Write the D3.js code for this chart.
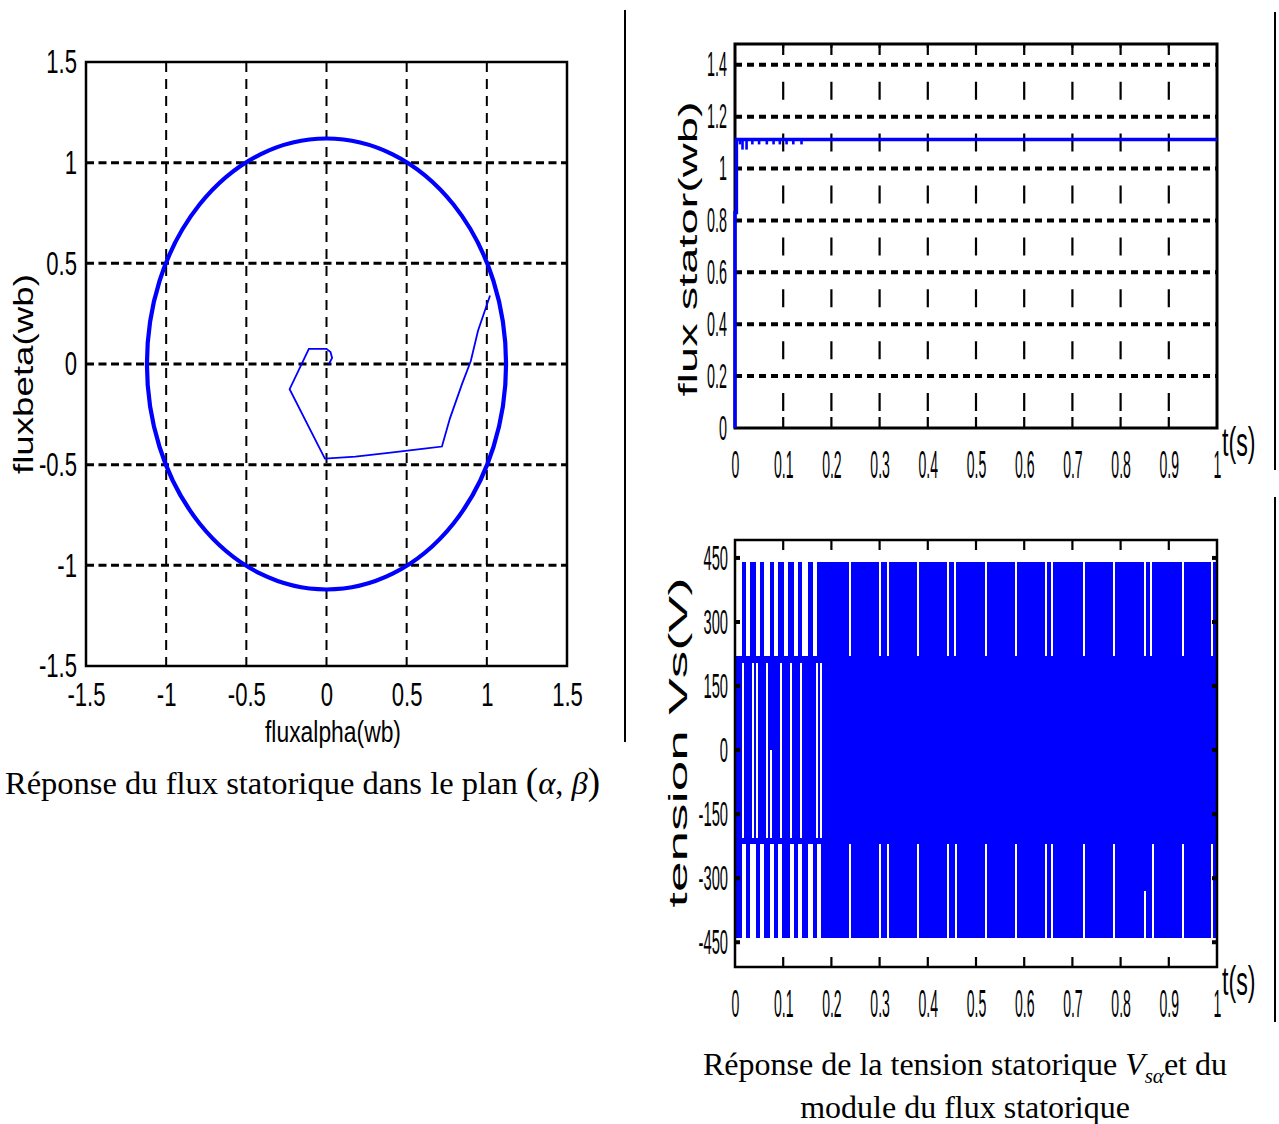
<!DOCTYPE html>
<html>
<head>
<meta charset="utf-8">
<script src="https://cdn.jsdelivr.net/npm/d3@7"></script>
<style>
  body { margin: 0; background: #fff; }
  svg { display: block; }
</style>
</head>
<body>
<script>
// ---------------- data ----------------
// stator flux in the (alpha, beta) plane
const planTicks = [-1.5, -1, -0.5, 0, 0.5, 1, 1.5];
const planTickLabels = ["-1.5", "-1", "-0.5", "0", "0.5", "1", "1.5"];
const fluxRadius = 1.12;               // steady-state flux magnitude (Wb)
const startAlpha = [0.015, 0.035, 0.025, 0.0, -0.11, -0.23, -0.01, 0.18, 0.40, 0.61, 0.72, 0.77, 0.845, 0.90, 0.945, 1.02];
const startBeta  = [0.0, 0.03, 0.06, 0.075, 0.075, -0.125, -0.47, -0.46, -0.44, -0.42, -0.41, -0.27, -0.10, 0.015, 0.165, 0.34];

// stator flux magnitude versus time
const timeTicks = [0, 0.1, 0.2, 0.3, 0.4, 0.5, 0.6, 0.7, 0.8, 0.9, 1];
const timeTickLabels = ["0", "0.1", "0.2", "0.3", "0.4", "0.5", "0.6", "0.7", "0.8", "0.9", "1"];
const fluxTicks = [0, 0.2, 0.4, 0.6, 0.8, 1, 1.2, 1.4];
const fluxTickLabels = ["0", "0.2", "0.4", "0.6", "0.8", "1", "1.2", "1.4"];
const fluxT = [0, 0, 0.003, 0.003, 1];
const fluxV = [0, 0.83, 0.83, 1.112, 1.112];
const rippleT = [0.0104, 0.0156, 0.024, 0.036, 0.050, 0.066, 0.080, 0.093, 0.107, 0.121, 0.138];
const rippleV = [1.093, 1.073, 1.073, 1.093, 1.093, 1.093, 1.093, 1.093, 1.093, 1.093, 1.093];

// stator phase voltage Vs_alpha
const voltTicks = [-450, -300, -150, 0, 150, 300, 450];
const voltTickLabels = ["-450", "-300", "-150", "0", "150", "300", "450"];
const voltLevels = [-440, -220, 220, 440];
// time intervals (s) during which the voltage switches inside each band
const upperBand = [[0, 0.003], [0.0145, 0.023], [0.031, 0.0435], [0.052, 0.060], [0.0726, 0.081],
  [0.089, 0.102], [0.110, 0.122], [0.131, 0.139], [0.151, 0.162], [0.170, 0.237], [0.241, 0.299],
  [0.303, 0.315], [0.319, 0.378], [0.382, 0.440], [0.445, 0.454], [0.459, 0.519], [0.523, 0.581],
  [0.585, 0.643], [0.647, 0.656], [0.660, 0.723], [0.727, 0.785], [0.789, 0.849], [0.853, 0.861],
  [0.865, 0.927], [0.932, 0.988], [0.992, 1.0]];
const lowerBand = [[0, 0.0145], [0.023, 0.031], [0.0435, 0.052], [0.060, 0.0726], [0.081, 0.089],
  [0.0975, 0.114], [0.122, 0.131], [0.139, 0.151], [0.162, 0.170], [0.178, 0.237], [0.241, 0.299],
  [0.303, 0.315], [0.319, 0.378], [0.382, 0.440], [0.445, 0.456], [0.461, 0.519], [0.523, 0.581],
  [0.585, 0.643], [0.647, 0.656], [0.660, 0.722], [0.726, 0.785], [0.789, 0.865], [0.869, 0.927],
  [0.932, 0.988], [0.992, 1.0]];
const middleBand = [[0, 1.0]];
// short intervals where the middle band is skipped: [t0, t1, low, high]
const middleNotches = [[0.0145, 0.0187, -205, 205], [0.0353, 0.0394, -205, 205], [0.0436, 0.0477, -205, 205],
  [0.0643, 0.0685, -205, 205], [0.0726, 0.0768, -205, 0], [0.0934, 0.0975, -205, 205],
  [0.114, 0.118, -205, 205], [0.135, 0.139, -205, 205], [0.168, 0.172, -205, 205], [0.176, 0.180, -205, 205]];
const lowerNotches = [[0.849, 0.853, -440, -330]];

// ---------------- drawing ----------------
const W = 1279, H = 1124;
const BLUE = "#0000ff";
const SANS = "'Liberation Sans', Arial, sans-serif";
const SERIF = "'Liberation Serif', 'Times New Roman', serif";

const svg = d3.select("body").append("svg").attr("width", W).attr("height", H)
  .style("background", "#fff");

// axis tick labels squeezed horizontally (narrow digits)
function narrowAxis(g, axis, sx, size) {
  g.call(axis);
  g.select(".domain").remove();
  g.selectAll("text").style("font-family", SANS).style("font-size", size + "px").attr("fill", "#000")
    .each(function () {
      const t = d3.select(this);
      t.attr("x", (+t.attr("x") || 0) / sx).attr("transform", `scale(${sx},1)`);
    });
}

// ---------- left: flux trajectory ----------
const xP = d3.scaleLinear().domain([-1.5, 1.5]).range([86, 567]);
const yP = d3.scaleLinear().domain([-1.5, 1.5]).range([666, 62]);
const gL = svg.append("g");

// grid
gL.selectAll("line.hg").data(planTicks.slice(1, -1)).join("line")
  .attr("x1", xP(-1.5)).attr("x2", xP(1.5)).attr("y1", d => yP(d)).attr("y2", d => yP(d))
  .attr("stroke", "#000").attr("stroke-width", 3).attr("stroke-dasharray", "8,4.5");
gL.selectAll("line.vg").data(planTicks.slice(1, -1)).join("line")
  .attr("y1", yP(1.5)).attr("y2", yP(-1.5)).attr("x1", d => xP(d)).attr("x2", d => xP(d))
  .attr("stroke", "#000").attr("stroke-width", 2).attr("stroke-dasharray", "10,7");

// steady-state circle
gL.append("ellipse")
  .attr("cx", xP(0)).attr("cy", yP(0))
  .attr("rx", xP(fluxRadius) - xP(0)).attr("ry", yP(0) - yP(fluxRadius))
  .attr("fill", "none").attr("stroke", BLUE).attr("stroke-width", 4.2);

// start-up trajectory
gL.append("path")
  .datum(d3.range(startAlpha.length))
  .attr("d", d3.line().x(i => xP(startAlpha[i])).y(i => yP(startBeta[i])))
  .attr("fill", "none").attr("stroke", BLUE).attr("stroke-width", 1.8);

// box
gL.append("rect").attr("x", xP(-1.5)).attr("y", yP(1.5))
  .attr("width", xP(1.5) - xP(-1.5)).attr("height", yP(-1.5) - yP(1.5))
  .attr("fill", "none").attr("stroke", "#000").attr("stroke-width", 2.5);

// tick labels
narrowAxis(gL.append("g").attr("transform", `translate(${xP(-1.5)},0)`),
  d3.axisLeft(yP).tickValues(planTicks).tickFormat((d, i) => planTickLabels[i]).tickSize(0).tickPadding(9), 0.65, 34);
narrowAxis(gL.append("g").attr("transform", `translate(0,${yP(-1.5)})`),
  d3.axisBottom(xP).tickValues(planTicks).tickFormat((d, i) => planTickLabels[i]).tickSize(0).tickPadding(16), 0.65, 34);

// axis titles
gL.append("text")
  .attr("transform", `translate(33,${yP(-0.05)}) rotate(-90)`)
  .attr("text-anchor", "middle")
  .attr("textLength", 200).attr("lengthAdjust", "spacingAndGlyphs")
  .style("font-family", SANS).style("font-size", "28px").text("fluxbeta(wb)");
gL.append("text")
  .attr("x", 333).attr("y", 742)
  .attr("text-anchor", "middle")
  .attr("textLength", 136).attr("lengthAdjust", "spacingAndGlyphs")
  .style("font-family", SANS).style("font-size", "29px").text("fluxalpha(wb)");

// caption
const cap1 = svg.append("text").attr("x", 5).attr("y", 794)
  .style("font-family", SERIF).style("font-size", "32.5px");
cap1.append("tspan").text("Réponse du flux statorique dans le plan ");
cap1.append("tspan").style("font-size", "37px").text("(");
cap1.append("tspan").style("font-style", "italic").text("α");
cap1.append("tspan").text(", ");
cap1.append("tspan").style("font-style", "italic").text("β");
cap1.append("tspan").style("font-size", "37px").text(")");

// ---------- right top: flux magnitude ----------
const xT = d3.scaleLinear().domain([0, 1]).range([735, 1217]);
const yF = d3.scaleLinear().domain([0, 1.48]).range([428, 44]);
const gF = svg.append("g");

const vPeriod = yF(0) - yF(0.2), vDash = 18;
gF.selectAll("line.hg").data(fluxTicks.slice(1)).join("line")
  .attr("x1", xT(0)).attr("x2", xT(1)).attr("y1", d => yF(d)).attr("y2", d => yF(d))
  .attr("stroke", "#000").attr("stroke-width", 4).attr("stroke-dasharray", "7,5");
gF.selectAll("line.vg").data(timeTicks.slice(1, -1)).join("line")
  .attr("x1", d => xT(d)).attr("x2", d => xT(d)).attr("y1", yF(0)).attr("y2", yF(1.48))
  .attr("stroke", "#000").attr("stroke-width", 2.2)
  .attr("stroke-dasharray", `${vDash},${vPeriod - vDash}`)
  .attr("stroke-dashoffset", vPeriod - (vPeriod / 2 - vDash / 2));
// inward ticks on top and bottom
gF.selectAll("line.tb").data(timeTicks.slice(1, -1)).join("line")
  .attr("x1", d => xT(d)).attr("x2", d => xT(d)).attr("y1", yF(0)).attr("y2", yF(0) - 11)
  .attr("stroke", "#000").attr("stroke-width", 2.2);
gF.selectAll("line.tt").data(timeTicks.slice(1, -1)).join("line")
  .attr("x1", d => xT(d)).attr("x2", d => xT(d)).attr("y1", yF(1.48)).attr("y2", yF(1.48) + 11)
  .attr("stroke", "#000").attr("stroke-width", 2.2);

gF.append("rect").attr("x", xT(0)).attr("y", yF(1.48))
  .attr("width", xT(1) - xT(0)).attr("height", yF(0) - yF(1.48))
  .attr("fill", "none").attr("stroke", "#000").attr("stroke-width", 3);

gF.append("path")
  .datum(d3.range(fluxT.length))
  .attr("d", d3.line().x(i => xT(fluxT[i])).y(i => yF(fluxV[i])))
  .attr("fill", "none").attr("stroke", BLUE).attr("stroke-width", 3.4);
gF.selectAll("line.rip").data(d3.range(rippleT.length)).join("line")
  .attr("x1", i => xT(rippleT[i])).attr("x2", i => xT(rippleT[i]))
  .attr("y1", yF(fluxV[fluxV.length - 1])).attr("y2", i => yF(rippleV[i]))
  .attr("stroke", BLUE).attr("stroke-width", 2.6);

// ---------- right bottom: voltage ----------
const yV = d3.scaleLinear().domain([-508, 492]).range([967, 540]);
const gV = svg.append("g");

function bandRects(g, data, lo, hi, color, cls) {
  g.selectAll("rect." + cls).data(data).join("rect").attr("class", cls)
    .attr("x", d => xT(d[0])).attr("width", d => Math.max(1, xT(d[1]) - xT(d[0])))
    .attr("y", yV(hi)).attr("height", yV(lo) - yV(hi))
    .attr("fill", color).attr("shape-rendering", "crispEdges");
}
bandRects(gV, upperBand, voltLevels[2], voltLevels[3], BLUE, "up");
bandRects(gV, lowerBand, voltLevels[0], voltLevels[1], BLUE, "lo");
bandRects(gV, middleBand, voltLevels[1], voltLevels[2], BLUE, "mid");
gV.selectAll("rect.notch").data(middleNotches.concat(lowerNotches)).join("rect").attr("class", "notch")
  .attr("x", d => xT(d[0])).attr("width", d => xT(d[1]) - xT(d[0]))
  .attr("y", d => yV(d[3])).attr("height", d => yV(d[2]) - yV(d[3]))
  .attr("fill", "#fff").attr("shape-rendering", "crispEdges");

gV.append("rect").attr("x", xT(0)).attr("y", yV(492))
  .attr("width", xT(1) - xT(0)).attr("height", yV(-508) - yV(492))
  .attr("fill", "none").attr("stroke", "#000").attr("stroke-width", 2.5);
// ticks
gV.selectAll("line.tb").data(timeTicks.slice(1, -1)).join("line")
  .attr("x1", d => xT(d)).attr("x2", d => xT(d)).attr("y1", yV(-508)).attr("y2", yV(-508) - 10)
  .attr("stroke", "#000").attr("stroke-width", 2.2);
gV.selectAll("line.tt").data(timeTicks.slice(1, -1)).join("line")
  .attr("x1", d => xT(d)).attr("x2", d => xT(d)).attr("y1", yV(492)).attr("y2", yV(492) + 10)
  .attr("stroke", "#000").attr("stroke-width", 2.2);
gV.selectAll("line.tl").data(voltTicks).join("line")
  .attr("x1", xT(0)).attr("x2", xT(0) + 5).attr("y1", d => yV(d)).attr("y2", d => yV(d))
  .attr("stroke", "#000").attr("stroke-width", 4);
gV.selectAll("line.tr").data(voltTicks).join("line")
  .attr("x1", xT(1)).attr("x2", xT(1) - 5).attr("y1", d => yV(d)).attr("y2", d => yV(d))
  .attr("stroke", "#000").attr("stroke-width", 4);

// tick labels
narrowAxis(svg.append("g").attr("transform", `translate(0,${yF(0)})`),
  d3.axisBottom(xT).tickValues(timeTicks).tickFormat((d, i) => timeTickLabels[i]).tickSize(0).tickPadding(22), 0.36, 39);
narrowAxis(svg.append("g").attr("transform", `translate(0,${yV(-508)})`),
  d3.axisBottom(xT).tickValues(timeTicks).tickFormat((d, i) => timeTickLabels[i]).tickSize(0).tickPadding(22), 0.36, 39);
narrowAxis(svg.append("g").attr("transform", `translate(${xT(0)},0)`),
  d3.axisLeft(yF).tickValues(fluxTicks).tickFormat((d, i) => fluxTickLabels[i]).tickSize(0).tickPadding(8), 0.41, 35);
narrowAxis(svg.append("g").attr("transform", `translate(${xT(0)},0)`),
  d3.axisLeft(yV).tickValues(voltTicks).tickFormat((d, i) => voltTickLabels[i]).tickSize(0).tickPadding(7), 0.42, 35);

// t(s) labels
[yF(0), yV(-508)].forEach(y0 => {
  svg.append("text").attr("transform", `translate(1222,${y0 + 28}) scale(0.58,1)`)
    .style("font-family", SANS).style("font-size", "40px").text("t(s)");
});

// axis titles
svg.append("text")
  .attr("transform", `translate(697,${yF(0.69)}) rotate(-90)`)
  .attr("text-anchor", "middle")
  .attr("textLength", 295).attr("lengthAdjust", "spacingAndGlyphs")
  .style("font-family", SANS).style("font-size", "26px").text("flux stator(wb)");
svg.append("text")
  .attr("transform", `translate(687,${yV(18)}) rotate(-90)`)
  .attr("text-anchor", "middle")
  .attr("textLength", 330).attr("lengthAdjust", "spacingAndGlyphs")
  .style("font-family", SANS).style("font-size", "26px").text("tension Vs(V)");

// caption
const cap2 = svg.append("text").attr("x", 965).attr("y", 1075).attr("text-anchor", "middle")
  .style("font-family", SERIF).style("font-size", "32px");
cap2.append("tspan").text("Réponse de la tension statorique ");
cap2.append("tspan").style("font-style", "italic").text("V");
cap2.append("tspan").style("font-style", "italic").style("font-size", "21px").attr("dy", 8).text("sα");
cap2.append("tspan").attr("dy", -8).text("et du");
svg.append("text").attr("x", 965).attr("y", 1118).attr("text-anchor", "middle")
  .style("font-family", SERIF).style("font-size", "32px").text("module du flux statorique");

// separators
svg.append("line").attr("x1", 625).attr("x2", 625).attr("y1", 10).attr("y2", 742)
  .attr("stroke", "#000").attr("stroke-width", 2);
svg.append("line").attr("x1", 1275).attr("x2", 1275).attr("y1", 12).attr("y2", 470)
  .attr("stroke", "#000").attr("stroke-width", 2);
svg.append("line").attr("x1", 1275).attr("x2", 1275).attr("y1", 497).attr("y2", 1022)
  .attr("stroke", "#000").attr("stroke-width", 2);
</script>
</body>
</html>
